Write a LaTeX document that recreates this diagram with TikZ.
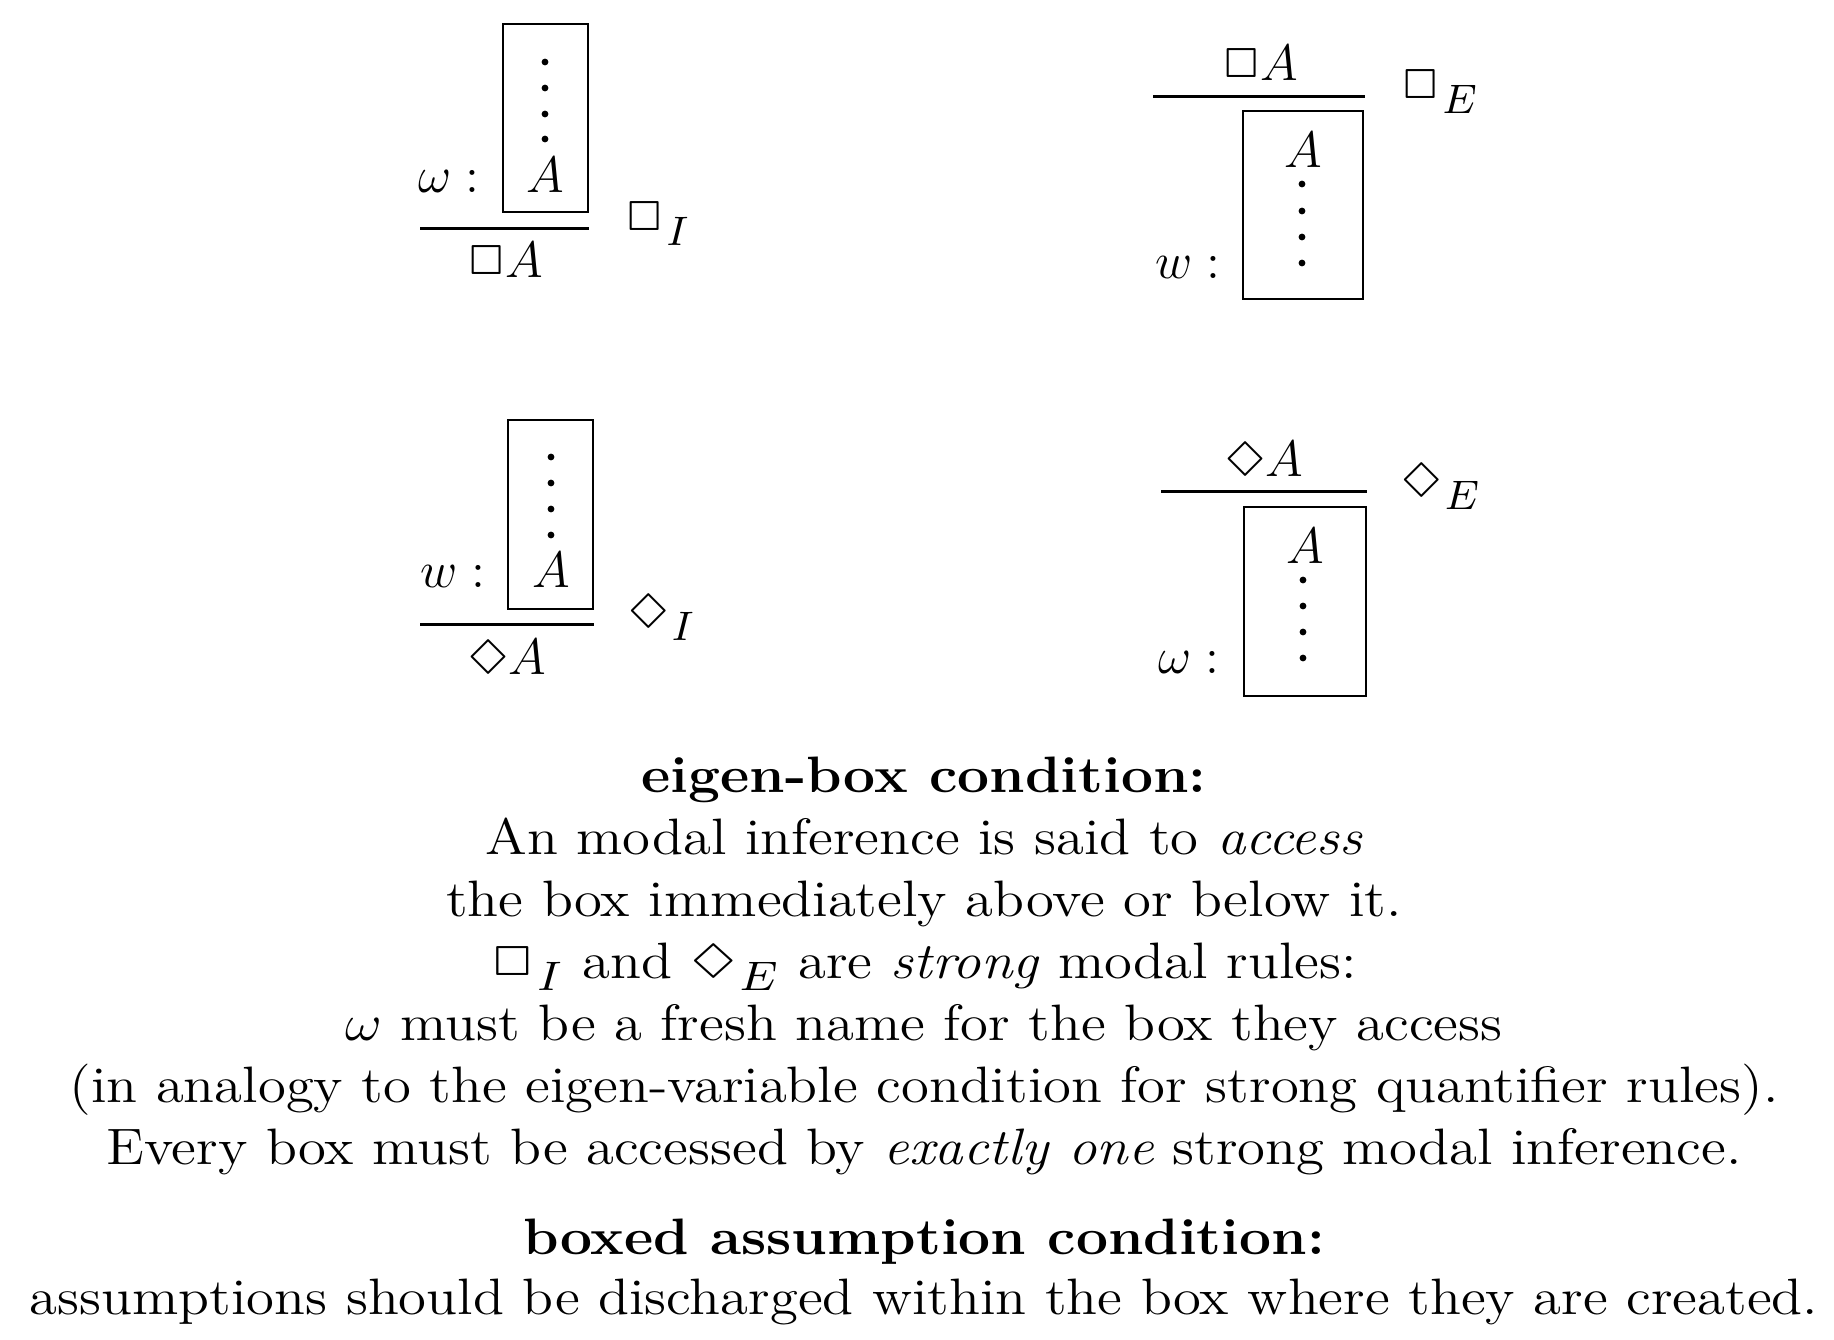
\RequirePackage{fix-cm}
\documentclass[tikz,border=0pt]{standalone}
\usepackage{latexsym}
\usepackage{graphicx}
\newcommand{\rsub}[2]{#1_{\kern0.8pt\lower1.3pt\hbox{\scalebox{1.15}{$\scriptstyle #2$}}}}
\begin{document}
\begin{tikzpicture}[x=0.25pt,y=-0.25pt,
  every node/.style={inner sep=0pt,outer sep=0pt,font=\fontsize{12.8}{15.5}\selectfont},
  mth/.style={anchor=base},
  lbl/.style={anchor=base west},
  txt/.style={anchor=base},
  subbox/.style={draw,line width=0.65pt,minimum width=0pt},
  rulebar/.style={line width=0.75pt},
  dotmark/.style={fill=black}]
\useasboundingbox (0,0) rectangle (1834,1340);
\newcommand{\mydots}[5]{\foreach \yy in {#2,#3,#4,#5} \fill[dotmark] (#1,\yy) circle (3.4);}
\newcommand{\wide}[1]{\scalebox{1.11}[1]{#1}}

% Box I
\draw[subbox] (503,24) rectangle (588,212);
\mydots{545}{62}{88}{114}{139}
\node[mth] (a1) at (545,192) {$A$};
\node[lbl] (w1) at (418,192) {$\omega :$};
\draw[rulebar] (420,228) -- (589,228);
\node[mth] (c1) at (505,277) {$\Box A$};
\node[lbl] (r1) at (625,233) {$\rsub{\Box}{I}$};

% Box E
\node[mth] (p2) at (1260,80) {$\Box A$};
\draw[rulebar] (1153,96) -- (1365,96);
\draw[subbox] (1243,111) rectangle (1363,299);
\node[mth] (a2) at (1303,167) {$A$};
\mydots{1302}{184}{211}{237}{263}
\node[lbl] (w2) at (1155,278) {$w :$};
\node[lbl] (r2) at (1401,101) {$\rsub{\Box}{E}$};

% Diamond I
\draw[subbox] (508,420) rectangle (593,609);
\mydots{551}{457}{483}{509}{535}
\node[mth] (a3) at (551,587) {$A$};
\node[lbl] (w3) at (420,587) {$w :$};
\draw[rulebar] (420,624) -- (594,624);
\node[mth] (c3) at (507,674) {$\Diamond A$};
\node[lbl] (r3) at (628,628) {$\rsub{\Diamond}{I}$};

% Diamond E
\node[mth] (p4) at (1264,476) {$\Diamond A$};
\draw[rulebar] (1161,491) -- (1367,491);
\draw[subbox] (1244,507) rectangle (1366,696);
\node[mth] (a4) at (1305,563) {$A$};
\mydots{1303}{580}{606}{632}{658}
\node[lbl] (w4) at (1158,673) {$\omega :$};
\node[lbl] (r4) at (1401,497) {$\rsub{\Diamond}{E}$};

% Text
\node[txt] (t1) at (924,792) {\wide{\textbf{eigen-box condition:}}};
\node[txt] (t2) at (924,854) {\wide{An modal inference is said to \textit{access}}};
\node[txt] (t3) at (924,916) {\wide{the box immediately above or below it.}};
\node[txt] (t4) at (924,978) {\wide{$\rsub{\Box}{I}$ and $\rsub{\Diamond}{E}$ are \textit{strong} modal rules:}};
\node[txt] (t5) at (924,1040) {\wide{$\omega$ must be a fresh name for the box they access}};
\node[txt] (t6) at (924,1102) {\wide{(in analogy to the eigen-variable condition for strong quantifier rules).}};
\node[txt] (t7) at (924,1164) {\wide{Every box must be accessed by \textit{exactly one} strong modal inference.}};
\node[txt] (t8) at (924,1254) {\wide{\textbf{boxed assumption condition:}}};
\node[txt] (t9) at (924,1314) {\wide{assumptions should be discharged within the box where they are created.}};
\end{tikzpicture}
\end{document}
